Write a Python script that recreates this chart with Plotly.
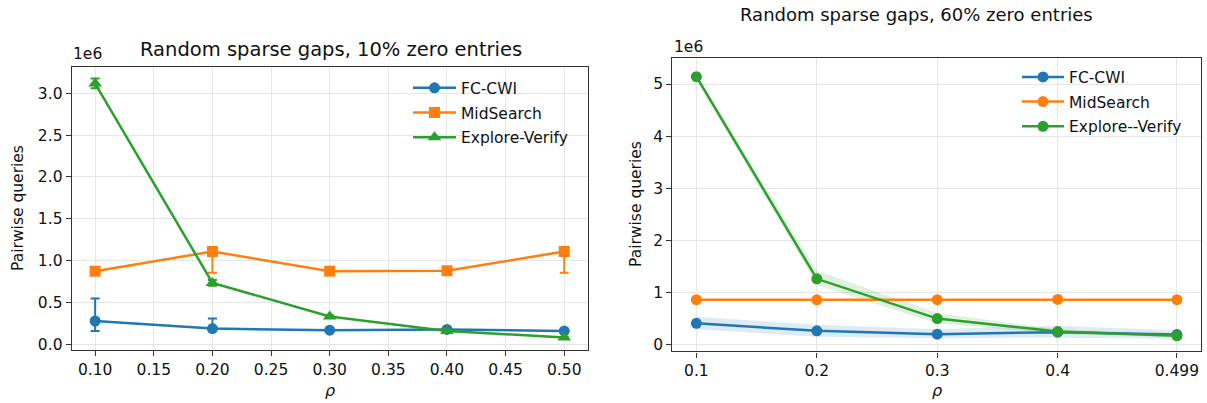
import plotly.graph_objects as go

# ---------------- data (values in units of 1e6 pairwise queries) ----------------
rho_left = [0.10, 0.20, 0.30, 0.40, 0.50]
fc_left = [0.28, 0.19, 0.17, 0.18, 0.16]
fc_left_lo = [0.16, 0.17, 0.16, 0.17, 0.15]
fc_left_hi = [0.55, 0.31, 0.18, 0.19, 0.17]
ms_left = [0.875, 1.11, 0.875, 0.88, 1.11]
ms_left_lo = [0.86, 0.855, 0.86, 0.865, 0.855]
ms_left_hi = [0.885, 1.12, 0.885, 0.89, 1.12]
ev_left = [3.115, 0.735, 0.335, 0.162, 0.083]
ev_left_lo = [3.06, 0.70, 0.32, 0.15, 0.075]
ev_left_hi = [3.175, 0.77, 0.35, 0.175, 0.09]

rho_right = [0.1, 0.2, 0.3, 0.4, 0.499]
rho_right_labels = ["0.1", "0.2", "0.3", "0.4", "0.499"]
fc_right = [0.415, 0.27, 0.206, 0.245, 0.20]
fc_right_lo = [0.30, 0.156, 0.13, 0.14, 0.12]
fc_right_hi = [0.54, 0.385, 0.30, 0.37, 0.28]
ms_right = [0.867, 0.865, 0.868, 0.872, 0.868]
ms_right_lo = [0.857, 0.855, 0.858, 0.862, 0.858]
ms_right_hi = [0.877, 0.875, 0.878, 0.882, 0.878]
ev_right = [5.14, 1.267, 0.505, 0.257, 0.175]
ev_right_lo = [5.08, 1.15, 0.41, 0.22, 0.15]
ev_right_hi = [5.20, 1.42, 0.61, 0.30, 0.20]

left_ticks = [0.0, 0.5, 1.0, 1.5, 2.0, 2.5, 3.0]
right_ticks = [0, 1, 2, 3, 4, 5]
left_xticks = [0.10, 0.15, 0.20, 0.25, 0.30, 0.35, 0.40, 0.45, 0.50]

names_left = ["FC-CWI", "MidSearch", "Explore-Verify"]
names_right = ["FC-CWI", "MidSearch", "Explore--Verify"]

BLUE, ORANGE, GREEN = "#1f77b4", "#ff7f0e", "#2ca02c"
BAND = {BLUE: "rgba(31,119,180,0.15)", ORANGE: "rgba(255,127,14,0.15)", GREEN: "rgba(44,160,44,0.15)"}
FONT = "DejaVu Sans"
W, H = 1207, 403

fig = go.Figure()

# ---------------- left panel ----------------
left_series = [
    (names_left[0], fc_left, fc_left_lo, fc_left_hi, BLUE, "circle", 11),
    (names_left[1], ms_left, ms_left_lo, ms_left_hi, ORANGE, "square", 11),
    (names_left[2], ev_left, ev_left_lo, ev_left_hi, GREEN, "triangle-up", 12),
]
for i, (nm, y, lo, hi, col, sym, ms) in enumerate(left_series):
    fig.add_trace(go.Scatter(
        x=rho_left, y=y, name=nm, mode="lines+markers",
        line=dict(color=col, width=2.5),
        marker=dict(color=col, symbol=sym, size=ms),
        error_y=dict(type="data", symmetric=False,
                     array=[h - v for h, v in zip(hi, y)],
                     arrayminus=[v - l for l, v in zip(lo, y)],
                     color=col, thickness=2, width=4.5),
        xaxis="x", yaxis="y", legend="legend", legendgroup=f"l{i}",
    ))

# ---------------- right panel ----------------
right_series = [
    (names_right[0], fc_right, fc_right_lo, fc_right_hi, BLUE),
    (names_right[1], ms_right, ms_right_lo, ms_right_hi, ORANGE),
    (names_right[2], ev_right, ev_right_lo, ev_right_hi, GREEN),
]
for nm, y, lo, hi, col in right_series:
    fig.add_trace(go.Scatter(x=rho_right, y=hi, mode="lines", line=dict(width=0, color=col),
                             showlegend=False, hoverinfo="skip", xaxis="x2", yaxis="y2"))
    fig.add_trace(go.Scatter(x=rho_right, y=lo, mode="lines", line=dict(width=0, color=col),
                             fill="tonexty", fillcolor=BAND[col],
                             showlegend=False, hoverinfo="skip", xaxis="x2", yaxis="y2"))
for i, (nm, y, lo, hi, col) in enumerate(right_series):
    fig.add_trace(go.Scatter(
        x=rho_right, y=y, name=nm, mode="lines+markers",
        line=dict(color=col, width=2.5),
        marker=dict(color=col, symbol="circle", size=11),
        xaxis="x2", yaxis="y2", legend="legend2", legendgroup=f"r{i}",
    ))

axis_common = dict(
    showline=True, mirror=True, linecolor="#333333", linewidth=1.2,
    ticks="outside", ticklen=5, tickwidth=1.1, tickcolor="#333333",
    showgrid=True, gridcolor="#e6e6e6", gridwidth=1, zeroline=False,
    tickfont=dict(family=FONT, size=15.5, color="#111111"),
)

def px(x):
    return x / W

def py(y):
    return 1 - y / H

fig.update_layout(
    width=W, height=H, autosize=False,
    margin=dict(l=0, r=0, t=0, b=0),
    paper_bgcolor="white", plot_bgcolor="white",
    font=dict(family=FONT, color="#111111"),
    xaxis=dict(domain=[px(71.7), px(587.7)], range=[0.08, 0.52],
               tickvals=left_xticks, tickformat=".2f", anchor="y", **axis_common),
    yaxis=dict(domain=[py(353.5), py(67.5)], range=[-0.066, 3.315],
               tickvals=left_ticks, tickformat=".1f", anchor="x", **axis_common),
    xaxis2=dict(domain=[px(672.3), px(1201)], range=[0.080, 0.519],
                tickvals=rho_right, ticktext=rho_right_labels, anchor="y2", **axis_common),
    yaxis2=dict(domain=[py(355), py(58.5)], range=[-0.125, 5.50],
                tickvals=right_ticks, anchor="x2", **axis_common),
    legend=dict(x=px(408), y=py(72), xanchor="left", yanchor="top",
                bgcolor="rgba(255,255,255,0)", borderwidth=0,
                font=dict(family=FONT, size=15.5, color="#111111"),
                itemwidth=43, tracegroupgap=1.5),
    legend2=dict(x=px(1017), y=py(61), xanchor="left", yanchor="top",
                 bgcolor="rgba(255,255,255,0)", borderwidth=0,
                 font=dict(family=FONT, size=15.5, color="#111111"),
                 itemwidth=42, tracegroupgap=1.5),
    showlegend=True,
)

ann = [
    dict(text="Random sparse gaps, 10% zero entries", x=px(331), y=py(50), size=19.5),
    dict(text="Random sparse gaps, 60% zero entries", x=px(916), y=py(15), size=18),
    dict(text="1e6", x=px(87.5), y=py(55), size=15.5),
    dict(text="1e6", x=px(688), y=py(47), size=15.5),
    dict(text="<i>ρ</i>", x=px(330), y=py(394), size=16),
    dict(text="<i>ρ</i>", x=px(937), y=py(394), size=16),
]
for a in ann:
    fig.add_annotation(text=a["text"], x=a["x"], y=a["y"], xref="paper", yref="paper",
                       xanchor="center", yanchor="middle", showarrow=False,
                       font=dict(family=FONT, size=a["size"], color="#111111"))
for xx, yy in [(18, 210), (636, 206)]:
    fig.add_annotation(text="Pairwise queries", x=px(xx), y=py(yy), xref="paper", yref="paper",
                       xanchor="center", yanchor="middle", showarrow=False, textangle=-90,
                       font=dict(family=FONT, size=15.5, color="#111111"))

fig.write_html("out.html")
